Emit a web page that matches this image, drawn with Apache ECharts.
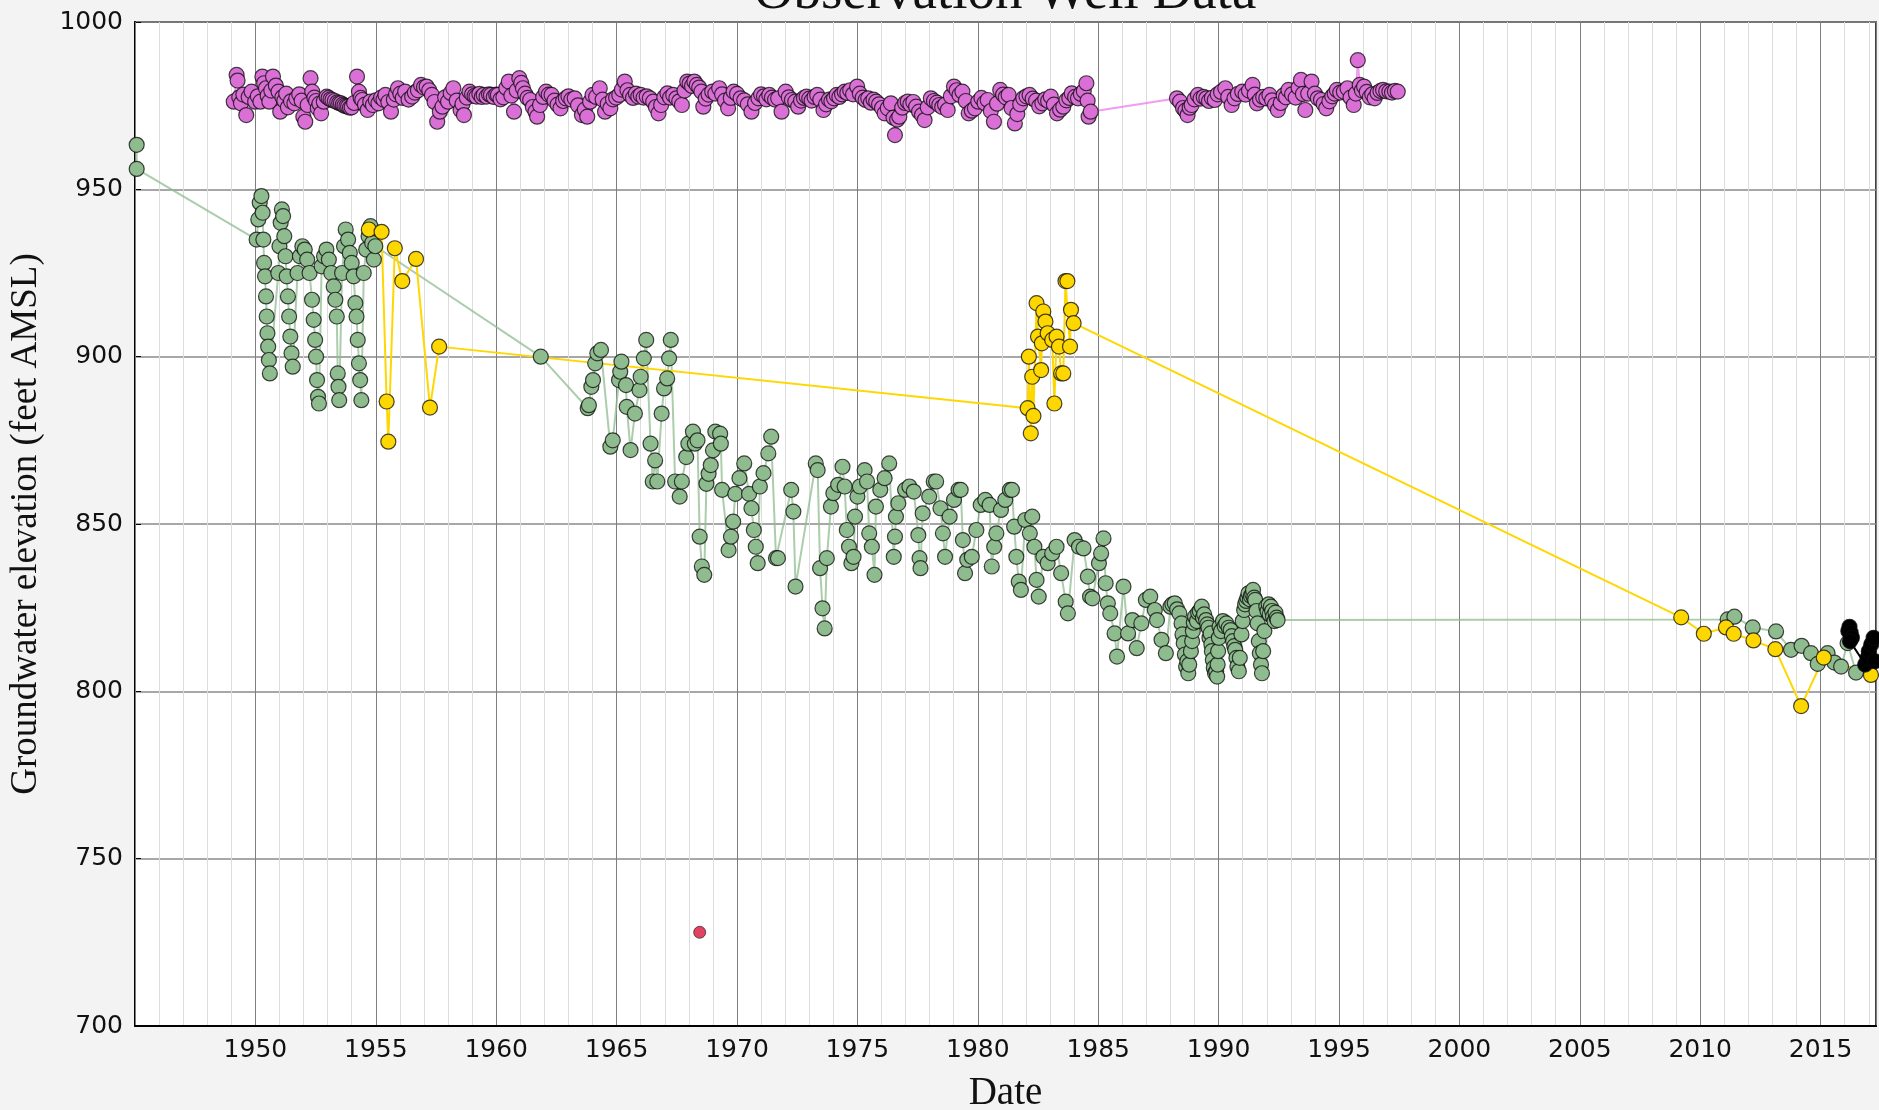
<!DOCTYPE html>
<html>
<head>
<meta charset="utf-8">
<title>Observation Well Data</title>
<script src="https://cdn.jsdelivr.net/npm/echarts/dist/echarts.min.js"></script>
<style>
  html, body { margin: 0; padding: 0; background: #f3f3f3; }
  #chart { width: 1879px; height: 1110px; }
</style>
</head>
<body>
<div id="chart"></div>
<script>
// [decimal year, groundwater elevation (ft AMSL)]
var greenWell = [
  [1945.07,963.3],[1945.07,956.1],
  [1950.05,935],[1950.12,941],[1950.18,946],[1950.25,948],[1950.3,943],[1950.33,935],[1950.36,928],[1950.4,924],[1950.44,918],[1950.47,912],[1950.5,907],[1950.53,903],[1950.56,899],[1950.6,895],
  [1950.95,925],[1951.0,933],[1951.05,940],[1951.1,944],[1951.15,942],[1951.2,936],[1951.25,930],[1951.3,924],[1951.35,918],[1951.4,912],[1951.45,906],[1951.5,901],[1951.55,897],
  [1951.75,925],[1951.85,930],[1951.95,933],[1952.05,932],[1952.15,929],[1952.25,925],[1952.35,917],[1952.42,911],[1952.48,905],[1952.52,900],[1952.56,893],[1952.6,888],[1952.64,886],
  [1952.75,927],[1952.85,930],[1952.95,932],[1953.05,929],[1953.15,925],[1953.25,921],[1953.32,917],[1953.38,912],[1953.42,895],[1953.45,891],[1953.48,887],
  [1953.6,925],[1953.68,933],[1953.75,938],[1953.85,935],[1953.92,931],[1954.0,928],[1954.08,924],[1954.15,916],[1954.2,912],[1954.25,905],[1954.3,898],[1954.35,893],[1954.4,887],
  [1954.5,925],[1954.6,932],[1954.7,936],[1954.78,939],[1954.85,934],[1954.92,929],[1954.98,933],
  [1961.85,900],
  [1963.8,884.6],[1963.85,885.5],[1963.95,891],[1964.02,893],[1964.11,898],[1964.2,901],[1964.35,902],
  [1964.74,873.1],[1964.84,875],
  [1965.1,893],[1965.15,895.5],[1965.2,898.5],[1965.39,891.5],[1965.42,885],[1965.58,872.1],[1965.76,883],
  [1965.95,890],[1966.0,894],[1966.13,899.5],[1966.23,905],
  [1966.41,874],[1966.5,862.7],[1966.6,869],[1966.69,862.7],[1966.87,883],
  [1966.97,890.5],[1967.1,893.5],[1967.18,899.5],[1967.25,905],
  [1967.43,862.7],[1967.62,858.2],[1967.71,862.7],[1967.89,870],[1967.98,874],[1968.17,877.6],[1968.25,874],[1968.36,875],
  [1968.45,846.2],[1968.54,837.3],[1968.64,834.8],
  [1968.73,862],[1968.82,865],[1968.91,867.6],[1969.0,872],[1969.1,877.6],[1969.3,877],[1969.33,874],[1969.38,860.2],
  [1969.65,842.2],[1969.75,846.2],[1969.84,850.7],[1969.93,859],[1970.1,863.7],[1970.3,868.1],
  [1970.5,859],[1970.6,854.7],[1970.7,848.2],[1970.78,843.2],[1970.86,838.3],
  [1970.95,861.2],[1971.1,865.2],[1971.3,871.1],[1971.42,876.1],
  [1971.62,839.8],[1971.7,839.8],
  [1972.25,860.2],[1972.34,853.7],[1972.43,831.3],
  [1973.27,868.1],[1973.35,866.1],[1973.45,836.8],[1973.55,824.8],[1973.64,818.8],
  [1973.73,839.8],[1973.9,855.2],[1974.0,859.2],[1974.2,861.7],[1974.38,867.1],[1974.47,861.2],
  [1974.56,848.2],[1974.65,843.2],[1974.75,838.3],[1974.84,840.2],
  [1974.9,852.2],[1975.0,858.2],[1975.1,861.2],[1975.3,866.1],[1975.4,862.7],
  [1975.49,847.2],[1975.6,843.2],[1975.71,834.8],
  [1975.77,855.2],[1975.95,860.2],[1976.13,863.7],[1976.32,868.1],
  [1976.51,840.2],[1976.56,846.2],[1976.6,852.2],
  [1976.7,856.2],[1976.98,860.2],[1977.16,861.2],[1977.34,859.7],
  [1977.53,846.7],[1977.58,839.8],[1977.62,836.8],
  [1977.71,853.2],[1977.98,858.2],[1978.17,862.7],[1978.27,862.7],
  [1978.45,854.7],[1978.55,847.2],[1978.64,840.2],
  [1978.83,852.2],[1979.01,857.2],[1979.2,860.2],[1979.29,860.2],
  [1979.38,845.2],[1979.47,835.3],[1979.56,839.3],[1979.75,840.2],
  [1979.94,848.2],[1980.12,855.7],[1980.31,857.2],[1980.49,855.7],
  [1980.58,837.3],[1980.68,843.2],[1980.77,847.2],
  [1980.96,854.2],[1981.14,857.2],[1981.33,860.2],[1981.42,860.2],
  [1981.51,849.2],[1981.6,840.2],[1981.7,832.8],[1981.79,830.3],
  [1981.97,851.2],[1982.16,847.2],[1982.26,852.2],
  [1982.35,843.2],[1982.44,833.3],[1982.53,828.3],
  [1982.72,840.2],[1982.9,838.3],[1983.09,841.2],[1983.27,843.2],
  [1983.46,835.3],[1983.65,826.8],[1983.74,823.3],
  [1984.02,845.2],[1984.2,843.2],[1984.39,842.7],
  [1984.57,834.3],[1984.66,828.3],[1984.76,827.8],
  [1985.03,838.3],[1985.12,841.2],[1985.22,845.7],
  [1985.31,832.3],[1985.4,826.3],[1985.5,823.3],[1985.68,817.3],[1985.78,810.4],
  [1986.05,831.3],[1986.24,817.3],[1986.42,821.3],[1986.6,812.9],[1986.79,820.3],
  [1986.98,827.3],[1987.16,828.3],[1987.35,824.3],[1987.44,821.3],[1987.63,815.4],[1987.81,811.4],
  [1988.0,825.3],[1988.08,826],[1988.18,826.3],[1988.28,824.5],[1988.37,823.3],[1988.46,820.3],[1988.5,817],[1988.55,814.4],[1988.6,811],[1988.65,807.4],[1988.7,809],[1988.74,805.4],
  [1988.78,808],[1988.85,812],[1988.9,815],[1988.93,818],[1988.97,820.5],[1989.02,822.3],[1989.1,821],[1989.15,823.5],[1989.22,824],[1989.3,825.3],[1989.35,822],[1989.4,823],
  [1989.48,821.3],[1989.53,820],[1989.58,819],[1989.62,816],[1989.67,817.3],[1989.7,814],[1989.72,812],[1989.76,809.4],[1989.8,807],[1989.85,805.4],[1989.9,806],[1989.94,804.4],
  [1989.96,808],[1989.98,812],[1990.01,816],[1990.04,819.3],[1990.1,818],[1990.18,821],[1990.25,819.5],[1990.32,820.3],[1990.42,819],[1990.5,818.3],[1990.55,816.5],[1990.6,815],
  [1990.65,813.5],[1990.69,812.4],[1990.74,810],[1990.78,807.4],[1990.84,806],[1990.88,810],[1990.95,817],[1991.0,821],[1991.06,824.3],[1991.1,826],[1991.15,827],[1991.2,828],
  [1991.24,829.3],[1991.3,827.5],[1991.34,828.5],[1991.4,829],[1991.43,830.3],[1991.48,828],[1991.52,827.3],[1991.57,824],[1991.62,820.3],[1991.67,815],[1991.71,811.4],[1991.76,808],
  [1991.8,805.4],[1991.85,812],[1991.9,818],[1991.98,825.3],[1992.03,824],[1992.08,826],[1992.12,823],[1992.17,825.3],[1992.22,824],[1992.26,822.3],[1992.32,821],[1992.36,823.5],
  [1992.41,822],[1992.45,821.3],
  [2011.14,821.5],[2011.42,822.3],[2012.18,819.1],[2013.15,817.9],[2013.77,812.4],[2014.21,813.6],
  [2014.6,811.4],[2014.88,808.2],[2015.29,811.4],[2015.57,808.6],[2015.85,807.4],[2016.12,814.4],[2016.47,805.6]
];

var purpleWell = [
  [1949.1,976.2],[1949.22,984.2],[1949.26,982.5],[1949.33,977.5],[1949.4,975.7],[1949.5,978.3],[1949.62,972.2],[1949.72,977.6],[1949.84,979.2],[1949.99,976.2],[1950.1,977.8],
  [1950.21,976.2],[1950.29,983.7],[1950.36,981.7],[1950.44,980.2],[1950.51,978],[1950.58,976.2],[1950.66,979.5],[1950.73,983.7],[1950.85,981],[1950.96,979.2],
  [1951.03,973.2],[1951.12,977.5],[1951.2,976.5],[1951.28,978.6],[1951.35,974.5],[1951.48,976.3],[1951.62,975.7],[1951.7,977.2],[1951.82,978.4],[1951.92,976.5],[1951.99,971.7],[1952.07,970.2],[1952.17,975.2],
  [1952.29,983.2],[1952.36,979.2],[1952.45,977.4],[1952.52,976.4],[1952.59,974.2],[1952.66,975.6],[1952.73,972.7],[1952.84,976.2],[1952.96,977.7],[1953.04,977.3],[1953.12,976.9],[1953.2,976.7],
  [1953.3,976.4],[1953.4,976],[1953.48,975.8],[1953.55,975.7],[1953.63,975.3],[1953.7,975],[1953.78,974.8],[1953.85,974.7],[1953.93,974.4],[1954.0,974.5],[1954.1,975.8],
  [1954.22,983.7],[1954.3,979.2],[1954.37,977.3],[1954.44,976.7],[1954.55,975.3],[1954.66,973.7],[1954.77,976.2],[1954.88,975.2],[1955.0,976.6],[1955.11,975.7],[1955.22,977.4],
  [1955.32,976.8],[1955.4,978.2],[1955.52,976.1],[1955.63,973.2],[1955.75,976.8],[1955.84,978.4],[1955.92,980.2],[1956.02,978.6],[1956.12,977.3],
  [1956.22,979.2],[1956.36,976.8],[1956.51,977.7],[1956.62,978.9],[1956.75,979.6],[1956.88,981.2],[1957.0,980.5],[1957.11,980.7],[1957.22,979.6],[1957.33,978.2],[1957.44,976.1],
  [1957.55,970.2],[1957.66,973.2],[1957.77,974.7],[1957.88,977.5],[1958.0,976.2],[1958.11,978.8],
  [1958.22,980.2],[1958.36,976.5],[1958.52,973.7],[1958.6,975.5],[1958.66,972.2],[1958.78,977.4],[1958.89,979.2],[1959.0,978.4],[1959.1,977.9],[1959.18,977.7],[1959.3,978.5],
  [1959.4,977.6],[1959.48,978.2],[1959.6,977.7],[1959.7,978.4],[1959.78,978.2],[1959.9,977.6],[1960.0,978.3],[1960.07,978.2],[1960.18,976.9],[1960.3,977.5],[1960.42,980.3],
  [1960.52,982.2],[1960.63,978],[1960.74,973.2],[1960.85,979.5],[1960.96,983.2],[1961.04,981.8],[1961.11,980.2],[1961.2,978.6],[1961.3,977.3],[1961.41,976.7],[1961.52,974.6],
  [1961.63,973.2],[1961.7,971.7],[1961.82,975.2],[1961.95,977.6],
  [1962.07,979.2],[1962.18,978.3],[1962.3,978.2],[1962.42,976.5],[1962.55,975.3],[1962.67,974.2],[1962.78,976.4],[1962.89,977.2],[1963.0,977.8],[1963.12,976.8],[1963.26,977.2],
  [1963.4,975.1],[1963.56,972.2],[1963.68,973.8],[1963.78,971.7],[1963.9,976.2],
  [1964.0,978.2],[1964.15,977.6],[1964.3,980.2],[1964.42,976.8],[1964.52,973.2],[1964.63,975.5],[1964.74,974.2],[1964.85,976.9],[1964.98,977.4],[1965.11,978.2],[1965.22,979.8],
  [1965.34,982.2],[1965.45,979.6],[1965.56,978.2],[1965.68,977.3],[1965.8,978.6],[1965.9,977.7],[1966.0,978.2],[1966.12,977.4],[1966.25,977.8],[1966.38,977.2],
  [1966.52,976.2],[1966.63,974.6],[1966.74,972.7],[1966.85,975.2],[1966.98,977.5],[1967.11,978.7],[1967.22,977.4],[1967.35,978.2],[1967.48,977.2],[1967.6,976.3],[1967.71,975.2],
  [1967.82,979.5],[1967.93,982.2],[1968.03,981.6],[1968.13,980.9],[1968.23,982.2],[1968.33,981.2],[1968.43,980.4],[1968.52,979.2],[1968.6,974.7],[1968.7,977.1],[1968.82,978.3],
  [1968.97,979.2],[1969.1,978.6],[1969.26,980.2],[1969.38,978.4],[1969.5,976.5],[1969.63,974.2],[1969.74,977.3],[1969.86,979.2],[1970.0,978.5],[1970.15,977.2],[1970.3,976.6],
  [1970.45,975.4],[1970.6,973.2],[1970.75,975.8],[1970.89,977.2],[1971.0,978.4],[1971.12,977.8],[1971.22,976.9],[1971.34,978.2],[1971.45,977.4],[1971.58,976.8],[1971.71,977.2],[1971.85,973.2],
  [1972.02,979.2],[1972.15,977.5],[1972.28,976.7],[1972.42,976.2],[1972.54,974.7],[1972.66,976.5],[1972.78,977.3],[1972.89,977.7],[1973.0,977.1],[1973.1,976.5],[1973.22,977.6],
  [1973.33,978.2],[1973.46,976.8],[1973.59,973.7],[1973.7,975.4],[1973.82,976.8],[1973.92,976.3],
  [1974.03,977.2],[1974.14,978.2],[1974.25,977.6],[1974.36,978.4],[1974.47,979.2],[1974.58,978.8],[1974.7,979.6],[1974.82,978.4],[1974.99,980.7],[1975.1,978.6],[1975.22,977.4],
  [1975.34,976.7],[1975.45,977.2],[1975.56,975.9],[1975.67,976.8],[1975.78,976.2],[1975.9,975.4],[1976.02,974.3],[1976.13,972.7],[1976.26,974.2],[1976.39,975.7],[1976.5,971.4],
  [1976.56,966.2],[1976.65,970.8],[1976.74,971.7],[1976.86,974.4],[1976.98,975.8],
  [1977.09,976.2],[1977.2,975.4],[1977.32,976.1],[1977.44,974.7],[1977.56,973.2],[1977.68,972.2],[1977.79,970.7],[1977.92,974.5],[1978.05,977.2],[1978.18,976.4],[1978.3,975.9],
  [1978.4,975.2],[1978.52,974.6],[1978.64,975.3],[1978.75,973.7],[1978.88,977.8],[1979.01,980.7],[1979.12,979.6],[1979.24,978.2],[1979.36,979.2],[1979.5,976.4],[1979.62,972.7],
  [1979.75,973.5],[1979.88,974.2],[1980.02,976.2],[1980.15,977.3],[1980.28,975.8],
  [1980.41,976.7],[1980.54,973.4],[1980.67,970.2],[1980.8,975.6],[1980.93,979.7],[1981.05,978.3],[1981.16,977.5],[1981.28,978.2],[1981.4,974.3],[1981.54,969.7],[1981.64,972.5],
  [1981.76,975.4],[1981.89,977.2],[1982.02,977.8],[1982.15,978.2],[1982.28,977.1],[1982.42,976.5],[1982.55,974.8],[1982.68,975.7],[1982.8,976.9],[1982.92,976.4],[1983.03,977.7],
  [1983.16,975.3],[1983.29,972.7],[1983.42,973.8],[1983.55,974.7],[1983.68,976.6],[1983.8,977.3],[1983.9,978.7],[1984.04,977.6],[1984.16,977.2],[1984.28,978.5],[1984.4,979.4],
  [1984.51,981.7],[1984.56,976.5],[1984.6,971.7],[1984.69,973.2],
  [1988.27,977.2],[1988.4,976.2],[1988.52,974.3],[1988.62,973.5],[1988.71,972.2],[1988.8,974.4],[1988.88,975.2],[1989.0,976.9],[1989.14,978.2],[1989.25,977.1],[1989.38,977.6],
  [1989.49,977.2],[1989.6,976.4],[1989.72,977.3],[1989.84,976.7],[1989.96,978.4],[1990.1,979.1],[1990.28,980.2],[1990.4,977.6],[1990.54,975.2],[1990.66,977.2],[1990.8,978.5],
  [1990.98,979.2],[1991.12,978.3],[1991.26,979.5],[1991.41,981.2],[1991.5,978.3],[1991.59,975.7],[1991.72,976.8],[1991.85,977.6],[1991.98,977.2],[1992.11,978.2],[1992.22,976.6],
  [1992.34,975.2],[1992.46,973.7],[1992.58,975.8],[1992.7,978.1],[1992.8,977.5],[1992.9,979.7],[1993.05,978.4],[1993.2,977.4],[1993.32,980.4],[1993.42,982.7],[1993.5,978.5],
  [1993.6,973.7],[1993.72,978.6],[1993.86,982.2],[1994.0,978.6],[1994.12,977.2],[1994.25,976.7],[1994.36,975.5],[1994.47,974.2],[1994.6,976.3],[1994.72,977.8],[1994.82,978.6],
  [1994.91,979.7],[1995.05,978.9],[1995.2,979.2],[1995.35,980.2],[1995.48,977.4],[1995.61,975.2],[1995.7,978.6],[1995.78,988.6],[1995.86,981.2],[1995.95,979.6],[1996.04,980.7],
  [1996.15,979.1],[1996.28,977.5],[1996.38,978.4],[1996.48,977.2],[1996.6,978.8],[1996.72,979.4],[1996.83,979.7],[1996.96,979.3],[1997.09,979.2],[1997.2,978.9],[1997.32,979.4],[1997.44,979.2]
];

var yellowWell = [
  [1954.71,938],[1955.24,937.3],[1955.45,886.6],[1955.52,874.6],[1955.79,932.4],[1956.1,922.6],[1956.67,929.2],
  [1957.25,884.8],[1957.63,903],
  [1982.07,884.6],[1982.12,900],[1982.2,877.1],[1982.26,894],[1982.31,882.3],[1982.44,916],[1982.5,906],
  [1982.63,896],[1982.66,904],[1982.72,913.5],[1982.81,910.5],[1982.9,907],[1983.09,905],[1983.18,886],
  [1983.27,906],[1983.37,903],[1983.46,895],[1983.55,895],[1983.64,922.6],[1983.72,922.6],[1983.83,903],
  [1983.87,914],[1983.98,910],
  [2009.21,822.1],[2010.15,817.2],[2011.07,819.1],[2011.39,817.2],[2012.21,815.2],[2013.12,812.6],
  [2014.19,795.6],[2015.13,810.1],[2017.09,804.9]
];

var blackWell = [
  [2016.15,818],[2016.2,819.3],[2016.25,817.5],[2016.3,816],[2016.22,815],
  [2016.85,808],[2016.95,810],[2017.0,812],[2017.1,814],[2017.2,816],[2017.25,809]
];

var redWell = [[1968.45,728]];

var yTicks = [700, 750, 800, 850, 900, 950, 1000];
var xLabelYears = [1950, 1955, 1960, 1965, 1970, 1975, 1980, 1985, 1990, 1995, 2000, 2005, 2010, 2015];

var chart = echarts.init(document.getElementById('chart'));

function wellSeries(name, data, fill, lineColor, lineOpacity, size) {
  return {
    name: name,
    type: 'line',
    data: data,
    symbol: 'circle',
    symbolSize: size,
    showAllSymbol: true,
    xAxisIndex: 0,
    lineStyle: { color: lineColor, width: 2, opacity: lineOpacity },
    itemStyle: { color: fill, borderColor: 'rgba(10,10,10,0.75)', borderWidth: 1.2 },
    emphasis: { disabled: true },
    clip: true
  };
}

var option = {
  animation: false,
  backgroundColor: '#f3f3f3',
  grid: {
    left: 135, right: 3, top: 22, bottom: 84,
    containLabel: false, outerBoundsMode: 'none',
    show: true, backgroundColor: '#ffffff', borderColor: '#000', borderWidth: 1.5
  },
  graphic: [{
    type: 'text',
    x: 1005, y: -6,
    style: {
      text: 'Observation Well Data',
      font: '55px "Liberation Serif"',
      fill: '#111',
      align: 'center',
      verticalAlign: 'middle'
    }
  }],
  xAxis: [{
    type: 'value', min: 1945, max: 2017.3, interval: 5, position: 'bottom', z: 2,
    axisLine: { show: true, onZero: false, lineStyle: { color: '#000', width: 2 } },
    axisTick: { show: false },
    axisLabel: {
      fontFamily: 'DejaVu Sans', fontSize: 25, color: '#111', margin: 12,
      formatter: function (v) { return xLabelYears.indexOf(v) >= 0 ? String(v) : ''; }
    },
    splitLine: { show: true, lineStyle: { color: '#7d7d7d', width: 1 } },
    name: 'Date', nameLocation: 'middle', nameGap: 48,
    nameTextStyle: { fontFamily: 'Liberation Serif', fontSize: 39, color: '#111' }
  }, {
    // yearly minor grid
    type: 'value', min: 1945, max: 2017.3, interval: 1, position: 'top', z: 1,
    axisLine: { show: false }, axisTick: { show: false }, axisLabel: { show: false },
    splitLine: { show: true, lineStyle: { color: '#dcdcdc', width: 1 } }
  }],
  yAxis: {
    type: 'value', min: 700, max: 1000, interval: 50,
    axisLine: { show: true, lineStyle: { color: '#000', width: 2 } },
    axisTick: { show: true, inside: true, length: 6, lineStyle: { color: '#000' } },
    axisLabel: {
      fontFamily: 'DejaVu Sans', fontSize: 25, color: '#111', margin: 12,
      formatter: function (v) { return yTicks.indexOf(v) >= 0 ? String(v) : ''; }
    },
    splitLine: { show: true, lineStyle: { color: '#8a8a8a', width: 1.5 } },
    name: 'Groundwater elevation (feet AMSL)', nameLocation: 'middle', nameGap: 90,
    nameTextStyle: { fontFamily: 'Liberation Serif', fontSize: 37, color: '#111' }
  },
  series: [
    wellSeries('Green well', greenWell, '#8fbc8f', '#8fbc8f', 0.75, 15),
    wellSeries('Purple well', purpleWell, '#da70d6', '#ee82ee', 0.8, 15),
    wellSeries('Yellow well', yellowWell, '#ffd700', '#ffd700', 1, 15),
    wellSeries('Black well', blackWell, '#000000', '#000000', 1, 15),
    {
      name: 'Red well', type: 'scatter', data: redWell, symbol: 'circle', symbolSize: 12,
      itemStyle: { color: '#dc143c', borderColor: 'rgba(10,10,10,0.75)', borderWidth: 1 }
    }
  ]
};

chart.setOption(option);
</script>
</body>
</html>
